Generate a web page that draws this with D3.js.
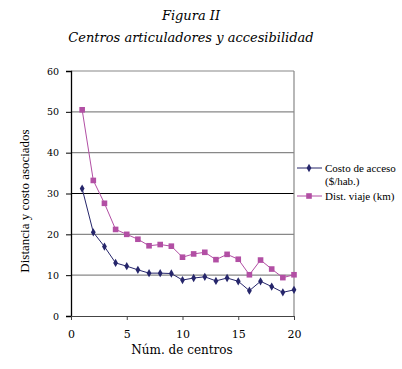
<!DOCTYPE html>
<html>
<head>
<meta charset="utf-8">
<script src="https://cdn.jsdelivr.net/npm/d3@7"></script>
<style>
  body { margin: 0; background: #fff; }
  text { font-family: "DejaVu Serif", "Liberation Serif", serif; }
  .times { font-family: "Liberation Serif", "Times New Roman", serif; }
</style>
</head>
<body>
<div id="chart"></div>
<script>
// data
let centros = d3.range(1, 21);
let costoAcceso = [31.2, 20.5, 17, 13, 12.2, 11.3, 10.5, 10.5, 10.4, 8.8,
                   9.3, 9.6, 8.6, 9.3, 8.5, 6.2, 8.5, 7.2, 5.8, 6.4];
let distViaje = [50.5, 33.2, 27.6, 21.2, 20, 18.8, 17.2, 17.5, 17.1, 14.4,
                 15.2, 15.6, 13.8, 15.1, 13.9, 10.1, 13.7, 11.5, 9.4, 10.1];
let yTicks = [0, 10, 20, 30, 40, 50, 60];
let xTicks = [0, 5, 10, 15, 20];
let seriesNames = ["Costo de acceso", "Dist. viaje (km)"];

let width = 402, height = 369;
let margin = {top: 71, right: 108, bottom: 53, left: 71};

let svg = d3.select("#chart").append("svg")
    .attr("width", width)
    .attr("height", height);

let x = d3.scaleLinear().domain([0, 20]).range([margin.left, width - margin.right]);
let y = d3.scaleLinear().domain([0, 60]).range([height - margin.bottom, margin.top]);

// titles
svg.append("text")
    .attr("x", 191).attr("y", 20)
    .attr("text-anchor", "middle")
    .style("font-style", "italic")
    .style("font-size", "13px")
    .text("Figura II");
svg.append("text")
    .attr("x", 191).attr("y", 42)
    .attr("text-anchor", "middle")
    .style("font-style", "italic")
    .style("font-size", "13px")
    .text("Centros articuladores y accesibilidad");

// gridlines
svg.selectAll(".grid")
    .data(yTicks.filter(d => d > 0))
    .enter().append("line")
    .attr("x1", x(0)).attr("x2", x(20))
    .attr("y1", d => y(d)).attr("y2", d => y(d))
    .attr("stroke", d => d === 30 ? "#000" : "#888")
    .attr("stroke-width", 1.2);

// right border
svg.append("line")
    .attr("x1", x(20)).attr("x2", x(20))
    .attr("y1", y(60)).attr("y2", y(0))
    .attr("stroke", "#888").attr("stroke-width", 1.2);

// axes
let yAxis = d3.axisLeft(y).tickValues(yTicks).tickSize(5).tickFormat(d3.format("d"));
let gy = svg.append("g")
    .attr("transform", "translate(" + x(0) + ",0)")
    .call(yAxis);
gy.select(".domain").attr("stroke", "#000").attr("stroke-width", 1.3);
gy.selectAll(".tick line").attr("stroke", "#000");
gy.selectAll("text").style("font-size", "9.5px").attr("x", -12).attr("fill", "#000");

let xAxis = d3.axisBottom(x).tickValues(xTicks).tickSize(4).tickFormat(d3.format("d"));
let gx = svg.append("g")
    .attr("transform", "translate(0," + y(0) + ")")
    .call(xAxis);
gx.select(".domain").attr("stroke", "#444").attr("stroke-width", 1);
gx.selectAll(".tick line").attr("stroke", "#444");
gx.selectAll("text").style("font-size", "11px").attr("y", 14).attr("fill", "#000");

// axis labels
svg.append("text")
    .attr("x", 182).attr("y", 354)
    .attr("text-anchor", "middle")
    .style("font-size", "12px")
    .text("Núm. de centros");
svg.append("text")
    .attr("class", "times")
    .attr("transform", "translate(29,201) rotate(-90)")
    .attr("text-anchor", "middle")
    .style("font-size", "13px")
    .text("Distancia y costo asociados");

// lines
let colors = ["#26266b", "#b24fa4"];
let line = d3.line().x((d, i) => x(centros[i])).y(d => y(d));

svg.append("path").datum(distViaje)
    .attr("d", line).attr("fill", "none")
    .attr("stroke", colors[1]).attr("stroke-width", 1);
svg.append("path").datum(costoAcceso)
    .attr("d", line).attr("fill", "none")
    .attr("stroke", colors[0]).attr("stroke-width", 1);

// markers
svg.selectAll(".sq")
    .data(distViaje)
    .enter().append("rect")
    .attr("x", (d, i) => x(centros[i]) - 2.8)
    .attr("y", d => y(d) - 2.8)
    .attr("width", 5.6).attr("height", 5.6)
    .attr("fill", colors[1]);

let diamond = d3.symbol().type(d3.symbolDiamond).size(20);
svg.selectAll(".dm")
    .data(costoAcceso)
    .enter().append("path")
    .attr("d", diamond)
    .attr("transform", (d, i) => "translate(" + x(centros[i]) + "," + y(d) + ")")
    .attr("fill", colors[0]);

// legend
let lg = svg.append("g");
lg.append("line").attr("x1", 297).attr("x2", 322).attr("y1", 168).attr("y2", 168)
    .attr("stroke", colors[0]);
lg.append("path").attr("d", diamond).attr("transform", "translate(309,168)").attr("fill", colors[0]);
lg.append("text").attr("class", "times").attr("x", 325).attr("y", 172).style("font-size", "11px").text(seriesNames[0]);
lg.append("text").attr("class", "times").attr("x", 325).attr("y", 185).style("font-size", "11px").text("($/hab.)");

lg.append("line").attr("x1", 297).attr("x2", 322).attr("y1", 196).attr("y2", 196)
    .attr("stroke", colors[1]);
lg.append("rect").attr("x", 306.2).attr("y", 193.2).attr("width", 5.6).attr("height", 5.6).attr("fill", colors[1]);
lg.append("text").attr("class", "times").attr("x", 325).attr("y", 200).style("font-size", "11px").text(seriesNames[1]);
</script>
</body>
</html>
